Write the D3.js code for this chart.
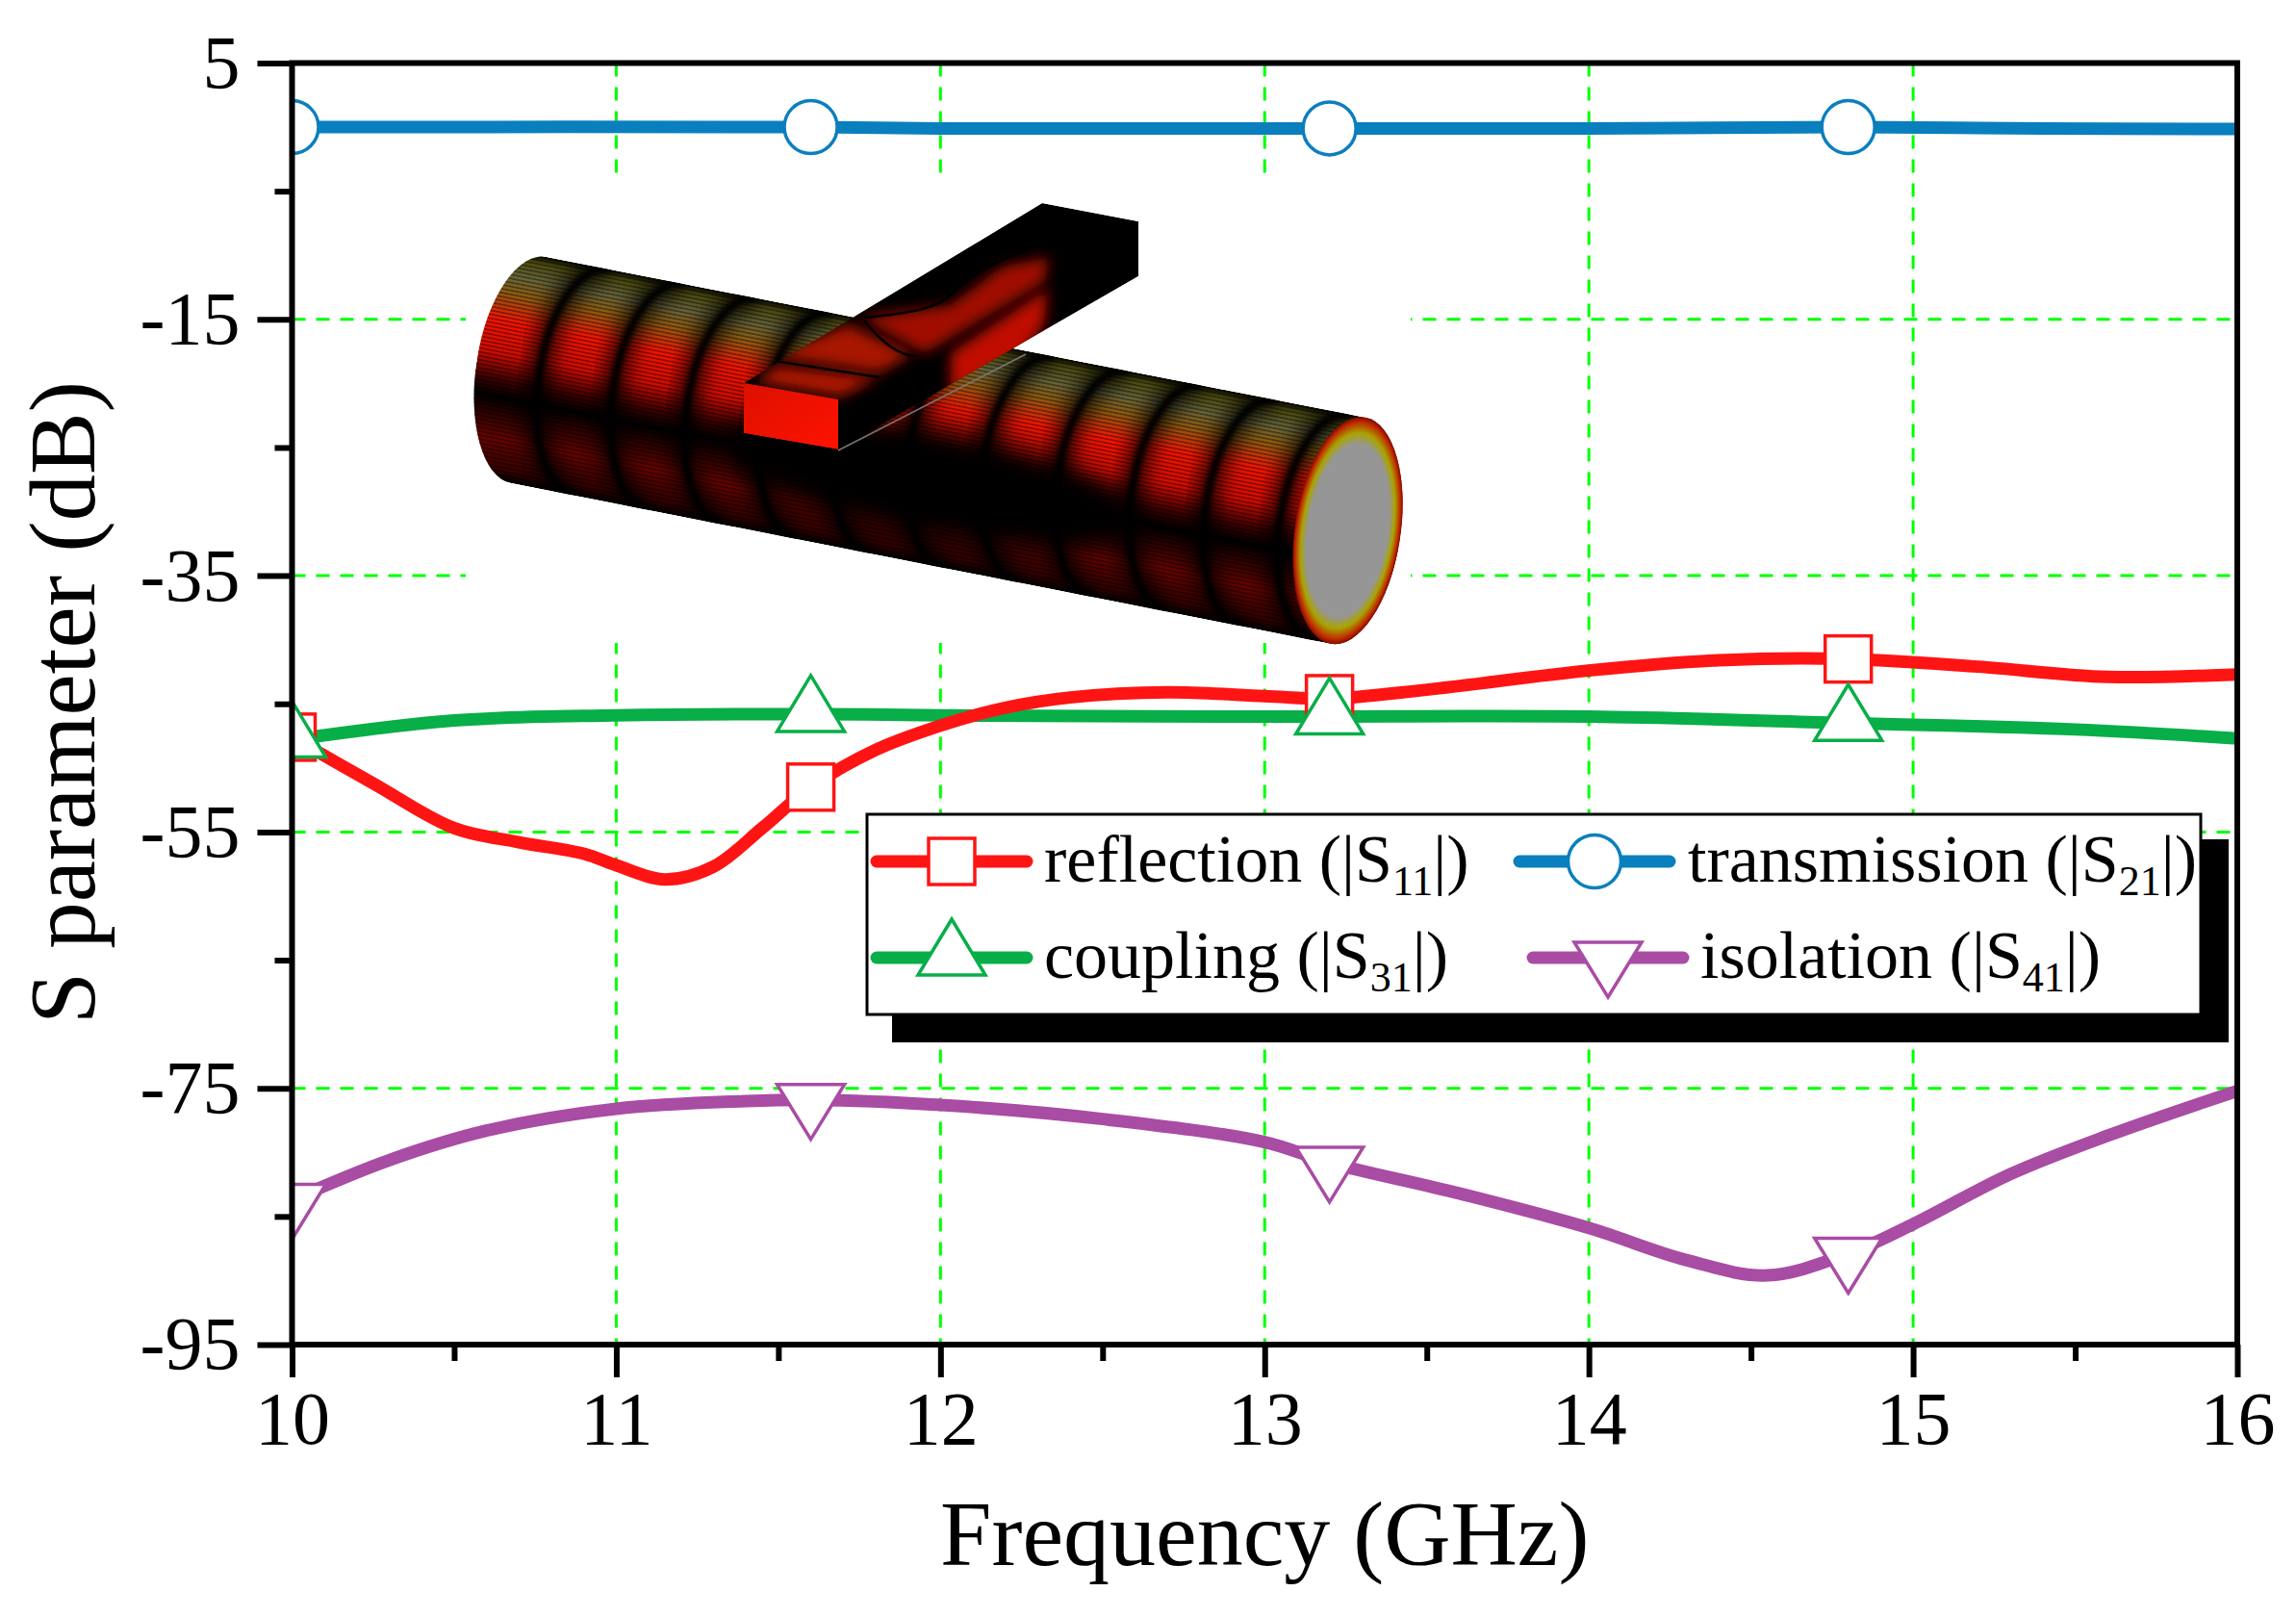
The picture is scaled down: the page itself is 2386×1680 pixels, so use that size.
<!DOCTYPE html>
<html><head><meta charset="utf-8">
<script src="https://cdn.jsdelivr.net/npm/d3@7"></script>
<style>html,body{margin:0;background:#fff}svg{display:block}text{font-family:"Liberation Serif",serif;fill:#000}</style>
</head><body><div id="c"></div>
<script>
const xTicks=[10,11,12,13,14,15,16];
const xMinor=[10.5,11.5,12.5,13.5,14.5,15.5];
const yTicks=[5,-15,-35,-55,-75,-95];
const yMinor=[-5,-25,-45,-65,-85];
const markerX=[10,11.6,13.2,14.8];
const redF=[10,10.25,10.5,10.7,10.9,11,11.15,11.3,11.45,11.6,11.8,12,12.2,12.4,12.7,13,13.2,13.5,14,14.4,14.8,15.2,15.6,16];
const redV=[-47.6,-51.2,-54.7,-55.8,-56.7,-57.6,-58.7,-57.7,-54.7,-51.5,-48.6,-46.7,-45.3,-44.5,-44.1,-44.4,-44.6,-43.9,-42.4,-41.6,-41.5,-42.1,-42.9,-42.7];
const blueF=[10,11.6,12,13.2,14,14.8,15.4,16];
const blueV=[0,0,-0.1,-0.1,-0.1,0,-0.1,-0.15];
const greenF=[10,10.5,11,11.6,12,13,14,14.8,15.5,16];
const greenV=[-47.8,-46.3,-45.9,-45.8,-45.9,-46,-46,-46.5,-47,-47.7];
const purpleF=[10,10.3,10.6,11,11.4,11.6,12,12.5,13,13.2,13.6,14,14.3,14.55,14.8,15,15.3,15.6,16];
const purpleV=[-83.7,-80.6,-78.3,-76.6,-76,-75.9,-76.3,-77.4,-79.2,-80.8,-83.2,-85.9,-88.4,-89.6,-87.9,-85.6,-81.7,-78.7,-75.2];
const names=["reflection (|S","transmission (|S","coupling (|S","isolation (|S"];
const subs=["11","21","31","41"];
const colors=["#FF1414","#0A7FBE","#08AE48","#A94CA4"];
const shapes=["square","circle","up","down"];
const fVals=[redF,blueF,greenF,purpleF];
const sVals=[redV,blueV,greenV,purpleV];

const W=2386,H=1680,L=303.5,R=2325,T=65.5,B=1397;
const svg=d3.select("#c").append("svg").attr("width",W).attr("height",H);
const x=d3.scaleLinear().domain([10,16]).range([L,R]);
const y=d3.scaleLinear().domain([-95,5]).range([B,T]);
const defs=svg.append("defs");
defs.append("clipPath").attr("id","plot").append("rect").attr("x",L).attr("y",T).attr("width",R-L).attr("height",B-T);

// grid
const grid=svg.append("g").attr("stroke","#00FF00").attr("stroke-width",3).attr("stroke-dasharray","14 11");
grid.selectAll("line.v").data(xTicks.slice(1,-1)).join("line").attr("x1",d=>x(d)).attr("x2",d=>x(d)).attr("y1",T).attr("y2",B);
grid.selectAll("line.h").data(yTicks.slice(1,-1)).join("line").attr("x1",L).attr("x2",R).attr("y1",d=>y(d)).attr("y2",d=>y(d));

// inset picture
function inset(){
  const g=svg.append("g");
  g.append("rect").attr("x",484).attr("y",190).attr("width",982).attr("height",478).attr("fill","#fff");
  const grad=(id,stops,attrs)=>{const s=defs.append("linearGradient").attr("id",id);
    Object.entries(attrs).forEach(([k,v])=>s.attr(k,v));
    stops.forEach(([o,c])=>s.append("stop").attr("offset",o).attr("stop-color",c));};
  grad("across",[[0,"#050500"],[.035,"#4c4a10"],[.11,"#66643a"],[.19,"#8c5a10"],[.31,"#f01400"],[.45,"#d00c00"],[.57,"#380000"],[.64,"#000"],[.71,"#280200"],[.82,"#640400"],[.95,"#340200"],[1,"#000"]],{x1:0,y1:0,x2:0,y2:1});
  grad("front",[[0,"#dc1000"],[1,"#ff1200"]],{x1:0,y1:0,x2:1,y2:1});
  const rad=defs.append("radialGradient").attr("id","endCap");
  [[0,"#959595"],[.76,"#969696"],[.86,"#a8a400"],[.95,"#c03000"],[1,"#8a0800"]].forEach(([o,c])=>rad.append("stop").attr("offset",o).attr("stop-color",c));
  const mk=(id,s)=>{const f=defs.append("filter").attr("id",id).attr("x","-40%").attr("y","-40%").attr("width","180%").attr("height","180%");f.append("feGaussianBlur").attr("stdDeviation",s);};
  mk("soft",2.5);mk("soft2",14);mk("soft3",7);mk("soft4",9);
  const hatch=defs.append("pattern").attr("id","hatch").attr("width",4).attr("height",4).attr("patternUnits","userSpaceOnUse");
  hatch.append("rect").attr("width",4).attr("height",1.6).attr("fill","#000").attr("opacity",.4);
  const cyl=g.append("g").attr("transform","matrix(1,0.196,-0.157,1,568,267)");
  const LEN=851,D=235,RX=54;
  const body=`M0,0L${LEN},0A${RX},${D/2} 0 0 1 ${LEN},${D}L0,${D}A${RX},${D/2} 0 0 1 0,0Z`;
  defs.append("clipPath").attr("id","cyl").append("path").attr("d",body);
  const inner=cyl.append("g").attr("clip-path","url(#cyl)");
  inner.append("rect").attr("x",-RX).attr("y",0).attr("width",LEN+2*RX).attr("height",D).attr("fill","url(#across)");
  const rings=d3.range(11).map(k=>65+77*k);
  const arc=u=>`M${u},0A${RX},${D/2} 0 0 0 ${u},${D}`;
  inner.selectAll("path.w").data(rings).join("path").attr("fill","none").attr("stroke","#000").attr("stroke-width",26).attr("opacity",.7).attr("filter","url(#soft4)").attr("d",arc);
  inner.selectAll("path.r").data(rings).join("path").attr("fill","none").attr("stroke","#000").attr("stroke-width",8).attr("filter","url(#soft)").attr("d",arc);
  inner.append("ellipse").attr("cx",420).attr("cy",150).attr("rx",210).attr("ry",55).attr("fill","#000").attr("filter","url(#soft2)");
  inner.append("rect").attr("x",-RX).attr("y",0).attr("width",LEN+2*RX).attr("height",D).attr("fill","url(#hatch)");
  cyl.append("ellipse").attr("cx",LEN).attr("cy",D/2).attr("rx",RX).attr("ry",D/2).attr("fill","url(#endCap)");
  // branch, clipped to its own outline
  const outline="773,398 1083,211 1183,230 1183,287 871,467 773,450";
  defs.append("clipPath").attr("id","branch").append("polygon").attr("points",outline);
  const b=g.append("g").attr("clip-path","url(#branch)");
  b.append("polygon").attr("points",outline).attr("fill","#000");
  const patches=[
    {p:"807,380 914,392 874,412 785,397",f:"#b01400"},
    {p:"800,370 881,337 948,368 914,387",f:"#a81400"},
    {p:"894,330 988,317 1042,277 1090,267 1085,293 961,367",f:"#a01000"},
    {p:"988,367 1089,300 1085,337 1062,370 988,410",f:"#c00c00"}
  ];
  patches.forEach(d=>{
    b.append("polygon").attr("points",d.p).attr("fill",d.f).attr("filter","url(#soft3)");
  });
  b.append("path").attr("fill","none").attr("stroke","#000").attr("stroke-width",2.5).attr("d","M805,375L914,392M898,333C915,355 935,370 952,370M898,330C950,325 975,320 990,305C1010,285 1030,275 1060,262");
  b.append("polygon").attr("points","773,398 871,415 871,467 773,450").attr("fill","url(#front)");
  g.append("line").attr("x1",871).attr("y1",468).attr("x2",1066).attr("y2",368).attr("stroke","#777").attr("stroke-width",1.5);
}
inset();

// curves
const line=d3.line().x(d=>x(d[0])).y(d=>y(d[1])).curve(d3.curveCatmullRom.alpha(.5));
const pl=svg.append("g").attr("clip-path","url(#plot)");
function marker(sel,shape,color){
  let p;
  if(shape==="square")p=sel.append("rect").attr("x",-24).attr("y",-24).attr("width",48).attr("height",48);
  else if(shape==="circle")p=sel.append("circle").attr("r",27.5);
  else if(shape==="up")p=sel.append("path").attr("d","M0,-40L35,18L-35,18Z");
  else p=sel.append("path").attr("d","M0,41L35,-16L-35,-16Z");
  p.attr("fill","#fff").attr("stroke",color).attr("stroke-width",3.5).attr("stroke-linejoin","miter");
}
[1,3,2,0].forEach(i=>{
  const pts=d3.zip(fVals[i],sVals[i]);
  pl.append("path").attr("d",line(pts)).attr("fill","none").attr("stroke",colors[i]).attr("stroke-width",13).attr("stroke-linecap","round");
});
[1,3,0,2].forEach(i=>{
  const interp=f=>{const a=fVals[i],b=sVals[i];const k=Math.max(1,d3.bisectLeft(a,f));const t=(f-a[k-1])/(a[k]-a[k-1]);return b[k-1]+t*(b[k]-b[k-1]);};
  markerX.forEach(f=>{
    const g=pl.append("g").attr("transform",`translate(${x(f)},${y(interp(f))})`);
    marker(g,shapes[i],colors[i]);
  });
});

// frame and axes
const ax=d3.axisBottom(x).tickValues(xTicks).tickSize(34).tickPadding(14).tickFormat(String);
const ay=d3.axisLeft(y).tickValues(yTicks).tickSize(36).tickPadding(18).tickFormat(String);
const ax2=d3.axisBottom(x).tickValues(xMinor).tickSize(17).tickFormat("");
const ay2=d3.axisLeft(y).tickValues(yMinor).tickSize(18).tickFormat("");
const style=g=>{g.selectAll("path.domain").remove();g.selectAll("line").attr("stroke","#000").attr("stroke-width",6);g.selectAll("text").attr("font-size",78).attr("fill","#000").attr("font-family","Liberation Serif");};
svg.append("g").attr("transform",`translate(0,${B})`).call(ax).call(style);
svg.append("g").attr("transform",`translate(0,${B})`).call(ax2).call(style);
svg.append("g").attr("transform",`translate(${L},0)`).call(ay).call(style);
svg.append("g").attr("transform",`translate(${L},0)`).call(ay2).call(style);
svg.append("rect").attr("x",L).attr("y",T).attr("width",R-L).attr("height",B-T).attr("fill","none").attr("stroke","#000").attr("stroke-width",6);

svg.append("text").attr("x",(L+R)/2).attr("y",1626).attr("text-anchor","middle").attr("font-size",96).text("Frequency (GHz)");
svg.append("text").attr("transform","translate(98,730) rotate(-90)").attr("text-anchor","middle").attr("font-size",97).text("S parameter (dB)");

// legend
const lg=svg.append("g");
lg.append("rect").attr("x",927).attr("y",872).attr("width",1389).attr("height",211).attr("fill","#000");
lg.append("rect").attr("x",901).attr("y",846).attr("width",1386).attr("height",208).attr("fill","#fff").attr("stroke","#000").attr("stroke-width",3);
const handleX=[989,1657,989,1671],textX=[1085,1754,1085,1767],rowY=[895,895,995,995];
names.forEach((n,i)=>{
  lg.append("line").attr("x1",handleX[i]-78).attr("x2",handleX[i]+78).attr("y1",rowY[i]).attr("y2",rowY[i]).attr("stroke",colors[i]).attr("stroke-width",13).attr("stroke-linecap","round");
  marker(lg.append("g").attr("transform",`translate(${handleX[i]},${rowY[i]})`),shapes[i],colors[i]);
  const t=lg.append("text").attr("x",textX[i]).attr("y",rowY[i]+21).attr("font-size",70).text(n);
  t.append("tspan").attr("font-size",44).attr("dy",14).text(subs[i]);
  t.append("tspan").attr("dy",-14).text("|)");
});
</script></body></html>
